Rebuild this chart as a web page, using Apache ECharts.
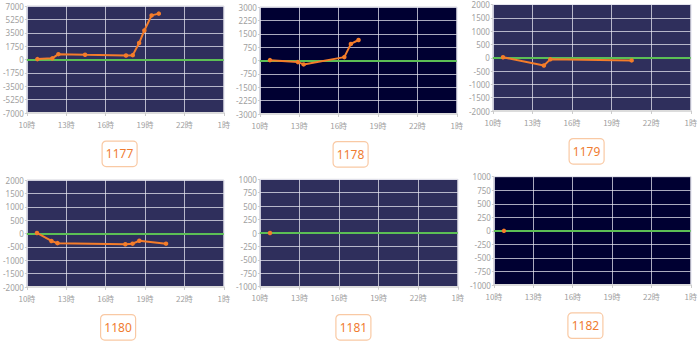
<!DOCTYPE html>
<html>
<head>
<meta charset="utf-8">
<script src="https://cdn.jsdelivr.net/npm/echarts@6/dist/echarts.min.js"></script>
<style>
  html, body { margin: 0; padding: 0; background: #fff; }
  body { width: 700px; height: 345px; position: relative; overflow: hidden; }
  .panel { position: absolute; overflow: hidden; }
</style>
</head>
<body>
<script>
// Panel names shown in the boxes under each chart
const panelNames = ['1177', '1178', '1179', '1180', '1181', '1182'];

// Recorded times (HH:MM) and values for each panel
const times1177 = ['10:48', '11:56', '12:24', '14:26', '17:33', '18:04', '18:33', '18:57', '19:30', '20:03'];
const values1177 = [50, 150, 700, 620, 530, 570, 2150, 3800, 5770, 6000];

const times1178 = ['10:46', '12:54', '13:20', '16:26', '16:56', '17:31'];
const values1178 = [20, -90, -220, 190, 930, 1150];

const times1179 = ['10:46', '13:52', '14:21', '20:31'];
const values1179 = [20, -290, -60, -100];

const times1180 = ['10:46', '11:52', '12:20', '17:30', '18:03', '18:34', '20:36'];
const values1180 = [20, -280, -360, -400, -380, -270, -380];

const times1181 = ['10:46'];
const values1181 = [0];

const times1182 = ['10:46'];
const values1182 = [0];

// Y-axis extent and step for each panel
const yMaxes = [7000, 3000, 2000, 2000, 1000, 1000];
const yIntervals = [1750, 750, 500, 500, 250, 250];

// X-axis tick labels: 10時 .. 1時 (next day), every 3 hours
const xTickLabels = ['10時', '13時', '16時', '19時', '22時', '1時'];

const allTimes = [times1177, times1178, times1179, times1180, times1181, times1182];
const allValues = [values1177, values1178, values1179, values1180, values1181, values1182];

// Layout of each panel: container box and plot rect inside it
const layouts = [
  { left: 0,   top: 0,   w: 233, h: 170, gl: 23,   gt: 6,   gw: 209.5, gh: 107,   bx: 101.5, by: 140.5, bg: '#2f2f5c' },
  { left: 233, top: 0,   w: 233, h: 170, gl: 22.5, gt: 7,   gw: 207.5, gh: 107,   bx: 99.5,  by: 141,   bg: '#000032' },
  { left: 466, top: 0,   w: 234, h: 170, gl: 24.5, gt: 4.5, gw: 209.5, gh: 106.5, bx: 102.5, by: 138,   bg: '#2f2f5c' },
  { left: 0,   top: 170, w: 233, h: 175, gl: 23,   gt: 10,  gw: 209,   gh: 107,   bx: 100,   by: 144,   bg: '#2f2f5c' },
  { left: 233, top: 170, w: 234, h: 175, gl: 24.3, gt: 9.3, gw: 208.7, gh: 107.4, bx: 102.3, by: 144,   bg: '#2f2f5c' },
  { left: 467, top: 170, w: 233, h: 175, gl: 22.3, gt: 6.7, gw: 210.7, gh: 108.3, bx: 100.3, by: 142.3, bg: '#000032' }
];

const START_HOUR = 10;
const SPAN_MIN = 15 * 60;
const STEP_MIN = 180;

function toMinutes(t) {
  const [h, m] = t.split(':').map(Number);
  let hh = h < START_HOUR ? h + 24 : h;
  return (hh - START_HOUR) * 60 + m;
}

panelNames.forEach((name, i) => {
  const L = layouts[i];
  const div = document.createElement('div');
  div.className = 'panel';
  div.style.left = L.left + 'px';
  div.style.top = L.top + 'px';
  div.style.width = L.w + 'px';
  div.style.height = L.h + 'px';
  document.body.appendChild(div);

  const chart = echarts.init(div, null, { renderer: 'svg', width: L.w, height: L.h });
  const points = allTimes[i].map((t, k) => [toMinutes(t), allValues[i][k]]);
  const boxW = 35, boxH = 25.5;

  chart.setOption({
    animation: false,
    grid: {
      left: L.gl, top: L.gt, width: L.gw, height: L.gh,
      show: true, backgroundColor: L.bg, borderColor: '#d4d4dc', borderWidth: 1
    },
    xAxis: {
      type: 'value', min: 0, max: SPAN_MIN, interval: STEP_MIN,
      axisLine: { show: true, onZero: false, lineStyle: { color: '#dcdcdc', width: 2 } },
      axisTick: { show: true, length: 3, lineStyle: { color: '#cccccc' } },
      axisLabel: {
        color: '#a0a0a0', fontSize: 8, margin: 7,
        fontFamily: '"Noto Sans CJK JP", "Noto Sans", sans-serif',
        formatter: v => xTickLabels[Math.round(v / STEP_MIN)]
      },
      splitLine: { show: true, lineStyle: { color: 'rgba(235,235,245,0.72)', width: 1 } }
    },
    yAxis: {
      type: 'value', min: -yMaxes[i], max: yMaxes[i], interval: yIntervals[i],
      axisLine: { show: false },
      axisTick: { show: true, length: 2, lineStyle: { color: '#cccccc' } },
      axisLabel: {
        color: '#a0a0a0', fontSize: 8, margin: 3,
        fontFamily: '"Noto Sans", sans-serif',
        formatter: v => String(v)
      },
      splitLine: { show: true, lineStyle: { color: 'rgba(235,235,245,0.72)', width: 1 } }
    },
    series: [{
      type: 'line',
      data: points,
      symbol: 'circle',
      symbolSize: 4.5,
      showSymbol: true,
      itemStyle: { color: '#f47c2a' },
      lineStyle: { color: '#f47c2a', width: 2 },
      z: 3,
      markLine: {
        silent: true,
        symbol: 'none',
        label: { show: false },
        lineStyle: { color: '#5cbf55', width: 2, type: 'solid' },
        data: [{ yAxis: 0 }],
        z: 2
      }
    }],
    graphic: [{
      type: 'group',
      left: L.bx, top: L.by,
      children: [{
        type: 'rect',
        shape: { x: 0, y: 0, width: boxW, height: boxH, r: 4 },
        style: { fill: '#fff', stroke: '#f9c9a4', lineWidth: 1.2 }
      }, {
        type: 'text',
        x: boxW / 2, y: boxH / 2,
        style: {
          text: name, fill: '#f07c30', fontSize: 12,
          fontFamily: '"Noto Sans", sans-serif',
          align: 'center', verticalAlign: 'middle'
        }
      }]
    }]
  });
});
</script>
</body>
</html>
